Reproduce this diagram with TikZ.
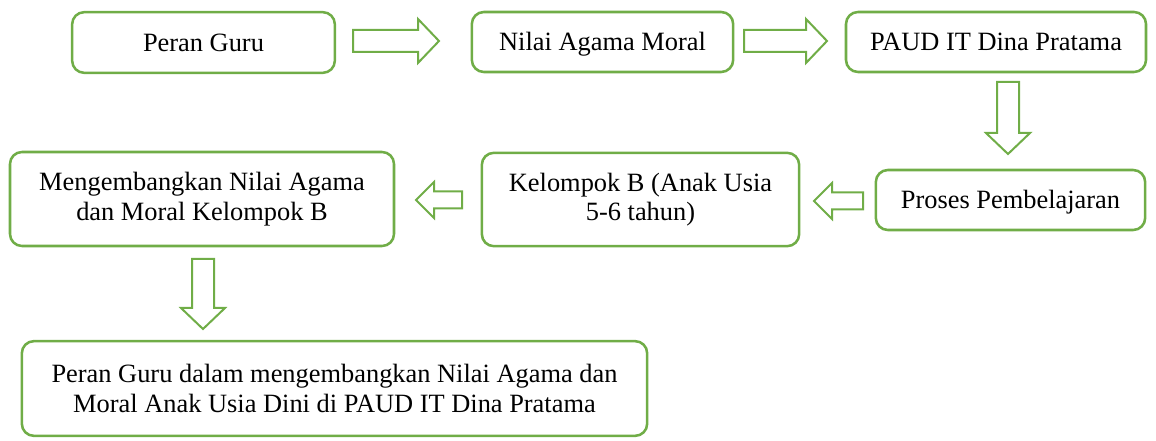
\documentclass[tikz,border=0pt]{standalone}
\usepackage{fontspec}
\setmainfont{Liberation Serif}
\definecolor{og}{HTML}{70AD47}
\begin{document}
\begin{tikzpicture}[x=0.75pt,y=-0.75pt,
  box/.style={draw=og,line width=1.9pt,rounded corners=9pt,align=center,
    font=\fontsize{19.8}{22}\selectfont,inner sep=0pt},
  onel/.style={text height=13.4pt,text depth=0pt},
  barrow/.style={draw=og,line width=1.5pt,fill=white,line join=miter}]
\useasboundingbox (0,0) rectangle (1156,441);
\node[box,onel,minimum width=197pt,minimum height=45.5pt] (b1) at (203.5,42.5) {Peran Guru};
\node[box,onel,minimum width=196pt,minimum height=45pt] (b2) at (602.5,42) {Nilai Agama Moral};
\node[box,onel,minimum width=225pt,minimum height=45pt] (b3) at (996,42) {PAUD IT Dina Pratama};
\node[box,onel,minimum width=202pt,minimum height=45pt] (b4) at (1010.5,200) {Proses Pembelajaran};
\node[box,minimum width=238pt,minimum height=70pt] (b5) at (640.5,199.5) {Kelompok B (Anak Usia\\5-6 tahun)};
\node[box,minimum width=288pt,minimum height=70.5pt] (b6) at (202,199) {Mengembangkan Nilai Agama\\dan Moral Kelompok B};
\node[box,minimum width=469pt,minimum height=71pt] (b7) at (334.5,388.5) {Peran Guru dalam mengembangkan Nilai Agama dan\\Moral Anak Usia Dini di PAUD IT Dina Pratama};
% block arrows
\draw[barrow] (353,30) -- (418,30) -- (418,19) -- (439,41) -- (418,63) -- (418,52) -- (353,52) -- cycle;
\draw[barrow] (744,30) -- (806,30) -- (806,19) -- (827,41) -- (806,63) -- (806,52) -- (744,52) -- cycle;
\draw[barrow] (997,82) -- (1019,82) -- (1019,133) -- (1030,133) -- (1008,154) -- (986,133) -- (997,133) -- cycle;
\draw[barrow] (863,192.5) -- (832,192.5) -- (832,183) -- (814,201) -- (832,219) -- (832,209.5) -- (863,209.5) -- cycle;
\draw[barrow] (462,191.5) -- (434,191.5) -- (434,182) -- (416,200) -- (434,218) -- (434,208.5) -- (462,208.5) -- cycle;
\draw[barrow] (192,259) -- (214,259) -- (214,308) -- (225,308) -- (203,329) -- (181,308) -- (192,308) -- cycle;
\end{tikzpicture}
\end{document}
